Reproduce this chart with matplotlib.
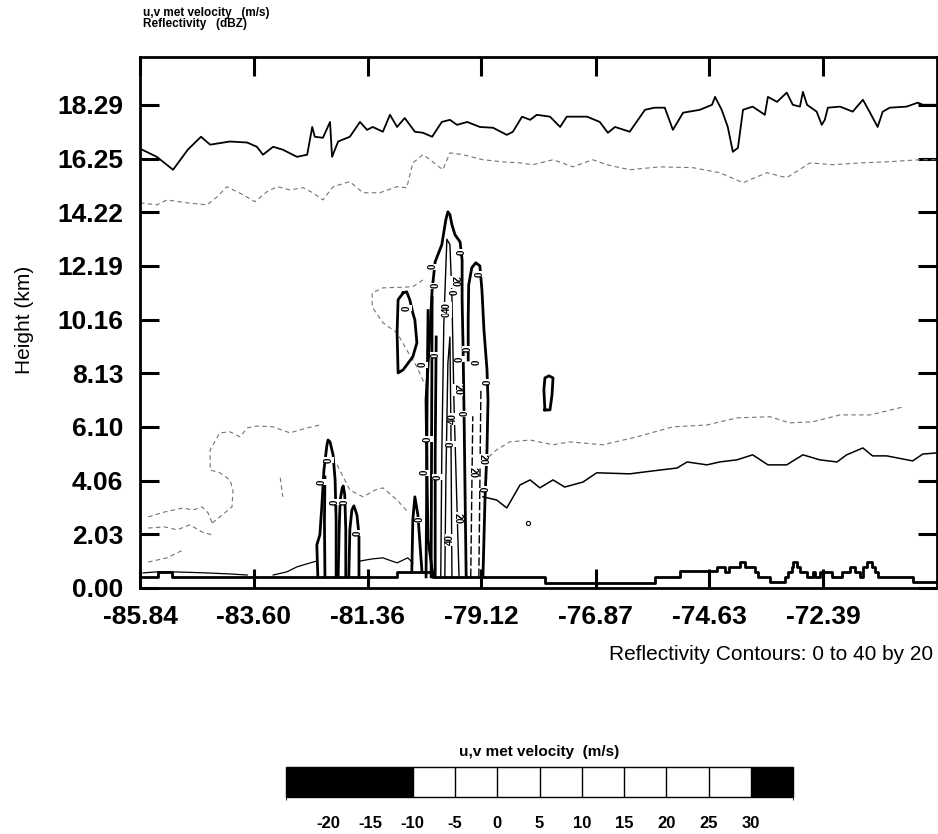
import matplotlib
matplotlib.use("Agg")
import matplotlib.pyplot as plt
from matplotlib.colors import ListedColormap, BoundaryNorm
import matplotlib.colorbar as mcolorbar

plt.rcParams['font.family'] = ['Liberation Sans', 'DejaVu Sans']
plt.rcParams['axes.unicode_minus'] = False

# axis ticks (longitude, height)
x_ticks = [-85.84, -83.60, -81.36, -79.12, -76.87, -74.63, -72.39]
y_ticks = [0.00, 2.03, 4.06, 6.10, 8.13, 10.16, 12.19, 14.22, 16.25, 18.29]
x_lim = (-85.84, -70.15)
y_lim = (0.0, 20.1)

# cloud top, 0 dBZ (solid)
top_lon = [-85.80, -85.51, -85.19, -84.90, -84.64, -84.46, -84.07, -83.73, -83.54, -83.42,
           -83.22, -83.03, -82.75, -82.55, -82.45, -82.40, -82.24, -82.10, -82.06, -81.94,
           -81.71, -81.51, -81.37, -81.26, -81.06, -80.92, -80.78, -80.63, -80.43, -80.27,
           -80.09, -79.90, -79.74, -79.60, -79.40, -79.15, -78.89, -78.62, -78.50, -78.32,
           -78.16, -78.03, -77.77, -77.57, -77.44, -77.04, -76.79, -76.63, -76.49, -76.20,
           -75.90, -75.71, -75.51, -75.35, -75.15, -74.82, -74.58, -74.52, -74.39, -74.27,
           -74.17, -74.07, -73.97, -73.78, -73.54, -73.48, -73.30, -73.11, -72.99, -72.85,
           -72.79, -72.71, -72.52, -72.42, -72.36, -72.30, -72.06, -71.81, -71.61, -71.48,
           -71.32, -71.22, -71.08, -70.75, -70.53, -70.43, -70.17]
top_h = [16.59, 16.32, 15.83, 16.59, 17.08, 16.78, 16.90, 16.86, 16.70, 16.40,
         16.70, 16.59, 16.32, 16.40, 17.45, 17.08, 17.04, 17.64, 16.32, 16.90,
         17.08, 17.64, 17.34, 17.45, 17.27, 17.91, 17.45, 17.79, 17.27, 17.23,
         17.08, 17.64, 17.72, 17.53, 17.64, 17.45, 17.42, 17.15, 17.27, 17.84,
         17.72, 17.91, 17.84, 17.45, 17.84, 17.84, 17.64, 17.23, 17.45, 17.27,
         18.10, 18.18, 18.18, 17.34, 17.99, 18.10, 18.29, 18.59, 18.10, 17.45,
         16.51, 16.66, 18.10, 18.22, 17.91, 18.59, 18.40, 18.75, 18.29, 18.22,
         18.78, 18.29, 18.03, 17.53, 17.72, 18.18, 18.22, 18.03, 18.48, 18.03,
         17.45, 18.03, 18.18, 18.22, 18.37, 18.29, 18.29]

# upper dashed contour
upper_dash_lon = [-85.84, -85.51, -85.31, -84.92, -84.52, -84.32, -84.13, -83.81, -83.58, -83.34,
                  -83.14, -82.89, -82.63, -82.44, -82.24, -82.04, -81.71, -81.45, -81.12, -80.78,
                  -80.59, -80.47, -80.27, -80.13, -79.88, -79.74, -79.48, -79.09, -78.70, -78.36,
                  -78.11, -77.71, -77.32, -76.93, -76.65, -76.20, -75.61, -74.96, -74.43, -73.97,
                  -73.50, -73.11, -72.65, -72.20, -71.67, -71.14, -70.49, -70.16]
upper_dash_h = [14.58, 14.50, 14.69, 14.58, 14.50, 14.81, 15.19, 14.88, 14.62, 15.00,
                15.19, 15.07, 15.15, 14.96, 14.69, 15.19, 15.38, 14.96, 14.96, 15.19,
                15.15, 16.09, 16.40, 16.21, 15.83, 16.47, 16.40, 16.21, 16.13, 16.09,
                16.02, 16.21, 15.94, 16.21, 16.02, 15.83, 15.94, 15.91, 15.72, 15.34,
                15.72, 15.53, 16.09, 16.02, 16.09, 16.13, 16.21, 16.21]

# lower solid contour, east side
low_lon = [-79.09, -78.82, -78.62, -78.36, -78.16, -77.97, -77.71, -77.48, -77.12, -76.85,
           -76.20, -75.75, -75.27, -75.07, -74.68, -74.43, -74.09, -73.78, -73.48, -73.11,
           -72.79, -72.46, -72.12, -71.93, -71.61, -71.42, -71.14, -70.63, -70.43, -70.16]
low_h = [3.45, 3.33, 3.03, 3.90, 4.09, 3.79, 4.09, 3.82, 4.01, 4.36,
         4.32, 4.43, 4.54, 4.77, 4.66, 4.77, 4.85, 5.04, 4.66, 4.66,
         5.04, 4.85, 4.77, 5.04, 5.30, 5.00, 5.00, 4.81, 5.07, 5.11]

# mid dashed contour, east side
mid_dash_lon = [-79.09, -78.82, -78.56, -78.16, -77.71, -77.38, -76.73, -76.06, -75.35,
                -74.68, -74.09, -73.44, -73.05, -72.60, -72.06, -71.47, -70.82]
mid_dash_h = [4.77, 5.23, 5.53, 5.60, 5.42, 5.53, 5.42, 5.72, 6.10,
              6.17, 6.44, 6.48, 6.25, 6.29, 6.55, 6.55, 6.85]

# dashed contours, west side
west1_lon = [-84.42, -84.27, -84.03, -84.01, -84.07, -84.27, -84.46, -84.46, -84.27, -84.07,
             -83.87, -83.73, -83.54, -83.22, -82.89, -82.55, -82.30]
west1_h = [2.46, 2.69, 3.07, 3.71, 4.09, 4.36, 4.47, 5.23, 5.87, 5.91,
           5.72, 6.06, 6.13, 6.10, 5.87, 6.06, 6.17]
west2_lon = [-85.68, -85.35, -84.99, -84.80, -84.62, -84.50, -84.42]
west2_h = [2.69, 2.88, 3.03, 2.95, 3.07, 2.84, 2.46]
west3_lon = [-85.68, -85.35, -85.11, -84.86, -84.62, -84.42]
west3_h = [2.27, 2.31, 2.20, 2.39, 2.12, 2.01]
west4_lon = [-85.68, -85.31, -84.99]
west4_h = [0.98, 1.14, 1.44]
west5_lon = [-83.08, -83.03]
west5_h = [4.17, 3.45]
anvil_lon = [-80.27, -80.47, -81.06, -81.27, -81.27, -81.06, -80.78, -80.59, -80.39, -80.23]
anvil_h = [11.66, 11.40, 11.36, 11.17, 10.64, 10.04, 9.66, 9.01, 8.37, 7.69]
gap_lon = [-81.96, -81.71, -81.45, -81.21, -81.06, -80.78, -80.57]
gap_h = [4.66, 3.71, 3.45, 3.71, 3.79, 3.33, 2.88]

# thin 0 dBZ base contours
base1_lon = [-85.78, -85.51, -85.19, -84.52, -84.07, -83.73]
base1_h = [0.57, 0.61, 0.61, 0.57, 0.53, 0.49]
base2_lon = [-83.22, -82.95, -82.75, -82.49, -82.36]
base2_h = [0.49, 0.61, 0.80, 0.95, 1.02]
base3_lon = [-81.51, -81.27, -81.06, -80.78, -80.57, -80.47]
base3_h = [1.02, 1.10, 1.14, 0.95, 1.14, 0.95]

# convective cells, 0 dBZ (thick)
cellA_lon = [-82.34, -82.36, -82.30, -82.26, -82.22, -82.16, -82.14, -82.10, -82.04, -82.00, -81.98, -81.98]
cellA_h = [0.42, 1.63, 2.01, 3.14, 4.47, 5.42, 5.60, 5.53, 5.04, 4.09, 2.58, 0.42]
cellA2_lon = [-82.20, -82.21, -82.20]
cellA2_h = [0.45, 2.5, 4.2]
cellB_lon = [-81.94, -81.92, -81.90, -81.86, -81.84, -81.81, -81.79, -81.79]
cellB_h = [0.42, 2.20, 3.33, 3.79, 3.86, 3.52, 2.20, 0.42]
cellC_lon = [-81.73, -81.71, -81.67, -81.63, -81.57, -81.53, -81.53]
cellC_h = [0.42, 2.20, 2.95, 3.11, 2.76, 2.01, 0.42]
cellD_lon = [-80.49, -80.47, -80.43, -80.37, -80.29]
cellD_h = [0.61, 2.58, 3.45, 2.76, 0.61]
main_lon = [-80.07, -80.17, -80.19, -80.21, -80.13, -80.09, -80.03, -79.90, -79.82, -79.78,
            -79.74, -79.70, -79.64, -79.54, -79.50, -79.50, -79.48, -79.46, -79.44, -79.42]
main_h = [0.42, 1.82, 4.09, 7.12, 9.77, 11.29, 12.35, 12.99, 13.94, 14.24,
          14.13, 13.75, 13.37, 13.10, 12.42, 10.91, 9.01, 6.36, 3.33, 0.42]
east_cell_lon = [-79.38, -79.38, -79.37, -79.31, -79.23, -79.15, -79.11, -79.07, -79.01, -78.99,
                 -79.01, -79.05, -79.07, -79.09]
east_cell_h = [8.63, 10.15, 11.47, 12.12, 12.31, 12.19, 11.29, 9.77, 8.26, 7.12,
               5.23, 3.33, 1.82, 0.42]
loop_w_lon = [-80.66, -80.76, -80.78, -80.76, -80.66, -80.47, -80.39, -80.43, -80.47, -80.53, -80.59, -80.66]
loop_w_h = [11.17, 10.91, 9.66, 8.14, 8.26, 8.75, 9.28, 10.15, 10.41, 10.91, 11.21, 11.17]
loop_e_lon = [-77.87, -77.89, -77.87, -77.79, -77.71, -77.73, -77.77, -77.87]
loop_e_h = [6.74, 7.50, 7.95, 8.03, 7.95, 7.31, 6.74, 6.74]

# inner cores (thick) and 20/40 dBZ contours (thin)
core1_lon = [-80.21, -80.20, -80.19, -80.17]
core1_h = [0.42, 3.0, 7.0, 10.5]
core2_lon = [-80.11, -80.10, -80.09]
core2_h = [0.42, 6.0, 11.0]
core3_lon = [-80.03, -80.03, -80.01]
core3_h = [0.42, 5.0, 9.5]
c20_lon = [-79.92, -79.90, -79.86, -79.80, -79.74, -79.70, -79.66, -79.60, -79.56]
c20_h = [0.42, 5.0, 10.0, 13.2, 13.0, 11.0, 7.0, 3.0, 0.42]
c40_lon = [-79.84, -79.82, -79.78, -79.74, -79.72, -79.70]
c40_h = [0.42, 4.0, 8.5, 9.5, 6.0, 0.42]
c20b_lon = [-79.33, -79.31, -79.29]
c20b_h = [0.42, 3.5, 6.5]
c20c_lon = [-79.17, -79.15, -79.13]
c20c_h = [0.42, 4.0, 7.5]
dot_lon = [-78.20]
dot_h = [2.46]

# terrain (step)
terrain_lon = [-85.84, -85.49, -85.21, -80.78, -80.07, -77.87, -75.70, -75.21, -74.48, -74.33,
               -74.25, -74.03, -73.93, -73.74, -73.68, -73.44, -73.15, -73.09, -73.01, -72.99,
               -72.91, -72.85, -72.71, -72.59, -72.56, -72.46, -72.22, -72.02, -71.87, -71.77,
               -71.67, -71.61, -71.53, -71.43, -71.37, -71.32, -70.63, -70.15]
terrain_h = [0.42, 0.61, 0.42, 0.61, 0.42, 0.19, 0.42, 0.64, 0.80, 0.61,
             0.80, 0.98, 0.80, 0.61, 0.42, 0.23, 0.42, 0.61, 0.80, 0.98,
             0.80, 0.61, 0.42, 0.61, 0.42, 0.61, 0.42, 0.61, 0.80, 0.61,
             0.42, 0.80, 0.98, 0.80, 0.61, 0.42, 0.23, 0.23]

# contour labels
lab0_lon = [-79.50, -80.09, -79.15, -80.59, -80.03, -79.64, -79.80, -80.03, -80.27, -79.54,
            -79.40, -79.22, -78.99, -79.46, -79.72, -80.17, -80.23, -79.99, -79.03, -80.33,
            -82.12, -82.26, -82.00, -81.81, -81.55]
lab0_h = [12.72, 12.16, 11.89, 10.60, 11.44, 11.21, 10.34, 8.82, 8.45, 8.67,
          9.05, 8.55, 7.80, 6.60, 5.45, 5.64, 4.36, 4.20, 3.75, 2.58,
          4.85, 4.01, 3.26, 3.26, 2.08]
lab20_lon = [-79.64, -79.58, -79.29, -79.09, -79.58]
lab20_h = [11.59, 7.50, 4.36, 4.85, 2.65]
lab40_lon = [-79.68, -79.74, -79.80]
lab40_h = [6.40, 1.82, 10.60]

# colour bar
cb_bounds = [-25, -20, -15, -10, -5, 0, 5, 10, 15, 20, 25, 30, 35]
cb_colors = ['black', 'black', 'black', 'white', 'white', 'white', 'white',
             'white', 'white', 'white', 'white', 'black']
cb_ticks = [-20, -15, -10, -5, 0, 5, 10, 15, 20, 25, 30]

fig = plt.figure(figsize=(9.38, 8.34), dpi=100)
ax = fig.add_axes([0.1493, 0.2950, 0.8497, 0.6367])

grey = dict(color='0.45', lw=0.8, dashes=(4, 3))
ax.plot(top_lon, top_h, color='black', lw=1.3)
ax.plot(low_lon, low_h, color='black', lw=1.1)
for xs, ys in [(upper_dash_lon, upper_dash_h), (mid_dash_lon, mid_dash_h),
               (west1_lon, west1_h), (west2_lon, west2_h), (west3_lon, west3_h),
               (west4_lon, west4_h), (west5_lon, west5_h), (anvil_lon, anvil_h),
               (gap_lon, gap_h)]:
    ax.plot(xs, ys, **grey)
for xs, ys in [(base1_lon, base1_h), (base2_lon, base2_h), (base3_lon, base3_h)]:
    ax.plot(xs, ys, color='black', lw=0.9)
for xs, ys in [(cellA_lon, cellA_h), (cellA2_lon, cellA2_h), (cellB_lon, cellB_h),
               (cellC_lon, cellC_h), (cellD_lon, cellD_h), (main_lon, main_h),
               (east_cell_lon, east_cell_h), (loop_w_lon, loop_w_h), (loop_e_lon, loop_e_h),
               (core1_lon, core1_h), (core2_lon, core2_h), (core3_lon, core3_h)]:
    ax.plot(xs, ys, color='black', lw=2.0)
for xs, ys in [(c20_lon, c20_h), (c40_lon, c40_h)]:
    ax.plot(xs, ys, color='black', lw=1.0)
for xs, ys in [(c20b_lon, c20b_h), (c20c_lon, c20c_h)]:
    ax.plot(xs, ys, color='black', lw=1.0, dashes=(6, 2))
ax.plot(dot_lon, dot_h, 'o', mfc='white', mec='black', ms=3, mew=0.8)
ax.step(terrain_lon, terrain_h, where='post', color='black', lw=2.0)

lab_box = dict(facecolor='white', edgecolor='none', pad=0.3)
for x, y in zip(lab0_lon, lab0_h):
    ax.text(x, y, '0', rotation=90, fontsize=7, fontweight='bold', ha='center', va='center', bbox=lab_box)
for x, y in zip(lab20_lon, lab20_h):
    ax.text(x, y, '20', rotation=-90, fontsize=7, fontweight='bold', ha='center', va='center', bbox=lab_box)
for x, y in zip(lab40_lon, lab40_h):
    ax.text(x, y, '40', rotation=90, fontsize=7, fontweight='bold', ha='center', va='center', bbox=lab_box)

ax.set_xlim(*x_lim)
ax.set_ylim(*y_lim)
ax.set_xticks(x_ticks)
ax.set_xticklabels(['%.2f' % v for v in x_ticks])
ax.set_yticks(y_ticks)
ax.set_yticklabels(['%.2f' % v for v in y_ticks])
ax.tick_params(direction='in', length=14, width=2.2, top=True, right=True,
               labelsize=19, pad=12)
for lab in ax.get_xticklabels() + ax.get_yticklabels():
    lab.set_fontweight('bold')
for sp in ax.spines.values():
    sp.set_linewidth(2.0)

fig.text(25 / 938, 1 - 320 / 834, 'Height (km)', rotation=90, fontsize=15,
         ha='center', va='center')
fig.text(933 / 938, 1 - 655 / 834, 'Reflectivity Contours: 0 to 40 by 20',
         fontsize=15, ha='right', va='center')
fig.text(143 / 938, 1 - 16 / 834, 'u,v met velocity   (m/s)', fontsize=8.5,
         fontweight='bold', ha='left', va='baseline')
fig.text(143 / 938, 1 - 27 / 834, 'Reflectivity   (dBZ)', fontsize=8.5,
         fontweight='bold', ha='left', va='baseline')

cax = fig.add_axes([286 / 938, 1 - 797 / 834, 507 / 938, 30 / 834])
cb = mcolorbar.ColorbarBase(cax, cmap=ListedColormap(cb_colors),
                            norm=BoundaryNorm(cb_bounds, len(cb_colors)),
                            orientation='horizontal', ticks=cb_ticks, drawedges=True)
cb.outline.set_linewidth(1.0)
cb.dividers.set_linewidth(1.0)
cax.tick_params(length=0, labelsize=12, pad=14)
for lab in cax.get_xticklabels():
    lab.set_fontweight('bold')
cax.set_title('u,v met velocity  (m/s)', fontsize=11, fontweight='bold', pad=8)

fig.savefig('out.png', dpi=100)
